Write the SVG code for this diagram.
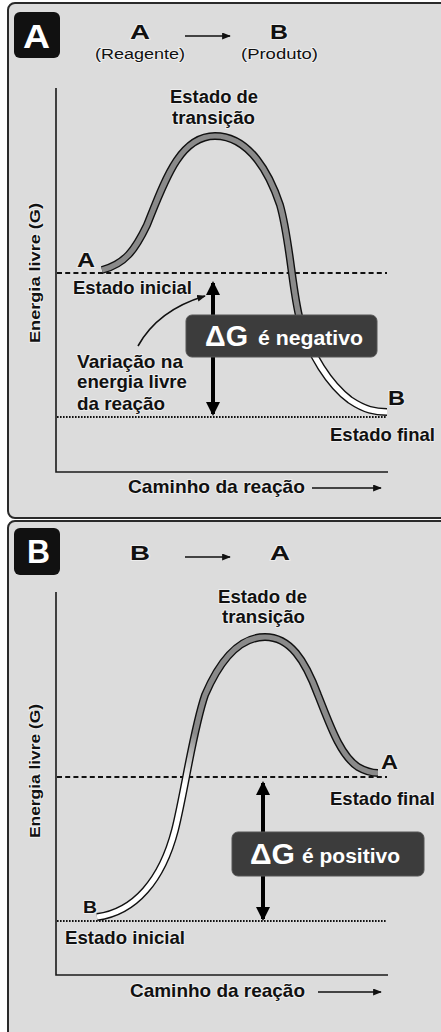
<svg xmlns="http://www.w3.org/2000/svg" width="441" height="1032" viewBox="0 0 441 1032">
<style>
.t{font-family:"Liberation Sans",Arial,sans-serif;font-weight:bold;fill:#111;stroke:#fff;stroke-width:2;stroke-opacity:0.5;stroke-linejoin:round;paint-order:stroke}
.r{font-weight:normal}
.w{fill:#fff;stroke:none}
.panel{fill:#dcdcdc;stroke:#2a2a2a;stroke-width:2}
.tag{fill:#111}
.axis{stroke:#1a1a1a;stroke-width:1.6;fill:none}
.dash{stroke:#111;stroke-width:2.2;stroke-dasharray:5 3.2;fill:none}
.dot{stroke:#111;stroke-width:2;stroke-dasharray:1.6 1.4;fill:none}
.tubeo{stroke:#111;stroke-width:8;fill:none}
.thin{stroke:#111;stroke-width:1.6;fill:none}
.dg{stroke:#000;stroke-width:4;fill:none}
.box{fill:#3c3c3c;stroke:#555;stroke-width:1}
</style>
<defs>
<marker id="ah" viewBox="0 0 10 8" refX="9" refY="4" markerWidth="9" markerHeight="7" markerUnits="userSpaceOnUse" orient="auto"><path d="M0,0 L10,4 L0,8 z" fill="#111"/></marker>
<marker id="big" viewBox="0 0 14 14" refX="12" refY="7" markerWidth="14" markerHeight="14" markerUnits="userSpaceOnUse" orient="auto-start-reverse"><path d="M0,0 L14,7 L0,14 z" fill="#000"/></marker>
<linearGradient id="gA" gradientUnits="userSpaceOnUse" x1="300" y1="318" x2="318" y2="352"><stop offset="0" stop-color="#8a8a8a"/><stop offset="1" stop-color="#ffffff"/></linearGradient>
<linearGradient id="gB" gradientUnits="userSpaceOnUse" x1="182" y1="782" x2="212" y2="748"><stop offset="0" stop-color="#ffffff"/><stop offset="1" stop-color="#8a8a8a"/></linearGradient>
</defs>

<g id="panelA">
<rect class="panel" x="8" y="3" width="445" height="515" rx="7"/>
<rect class="tag" x="14" y="12" width="46" height="46" rx="6"/>
<text class="t w" x="23" y="48" font-size="33" textLength="27" lengthAdjust="spacingAndGlyphs">A</text>
</g>
<g id="panelB">
<rect class="panel" x="8" y="521" width="445" height="530" rx="7"/>
<rect class="tag" x="14" y="528" width="46" height="47" rx="6"/>
<text class="t w" x="27" y="563" font-size="34" textLength="23" lengthAdjust="spacingAndGlyphs">B</text>
</g>

<g id="axesA">
<path class="axis" d="M56,88 V472 H388"/>
<line class="dash" x1="57" y1="273" x2="387" y2="273"/>
<line class="dot" x1="57" y1="417" x2="387" y2="417"/>
</g>
<g id="axesB">
<path class="axis" d="M56,592 V975 H388"/>
<line class="dash" x1="57" y1="777" x2="387" y2="777"/>
<line class="dot" x1="57" y1="921" x2="387" y2="921"/>
</g>

<g id="curveA">
<path class="tubeo" d="M102,270 C125,264 135,250 147,225 C165,180 180,136 215,136 C250,136 270,175 280,205 C290,240 292,290 300,320 C310,355 330,385 350,400 C365,410 375,412 387,412"/>
<path d="M102,270 C125,264 135,250 147,225 C165,180 180,136 215,136 C250,136 270,175 280,205 C290,240 292,290 300,320 C310,355 330,385 350,400 C365,410 375,412 387,412" fill="none" stroke="url(#gA)" stroke-width="5.2"/>
</g>
<g id="curveB">
<path class="tubeo" d="M97,917 C135,912 162,880 175,830 C185,790 193,730 205,695 C220,660 240,637 265,637 C290,637 305,660 318,695 C330,725 340,755 358,767 C365,771 372,773 378,773"/>
<path d="M97,917 C135,912 162,880 175,830 C185,790 193,730 205,695 C220,660 240,637 265,637 C290,637 305,660 318,695 C330,725 340,755 358,767 C365,771 372,773 378,773" fill="none" stroke="url(#gB)" stroke-width="5.2"/>
</g>

<g id="connectors">
<line class="thin" x1="185" y1="36" x2="230" y2="36" marker-end="url(#ah)"/>
<line class="thin" x1="312" y1="488" x2="381" y2="488" marker-end="url(#ah)"/>
<path class="thin" d="M138,346 Q158,310 205,296" stroke-width="1.4" marker-end="url(#ah)"/>
<line class="dg" x1="213" y1="283" x2="213" y2="414" marker-start="url(#big)" marker-end="url(#big)"/>
<line class="thin" x1="185" y1="557" x2="230" y2="557" marker-end="url(#ah)"/>
<line class="thin" x1="318" y1="992" x2="381" y2="992" marker-end="url(#ah)"/>
<line class="dg" x1="263" y1="783" x2="263" y2="919" marker-start="url(#big)" marker-end="url(#big)"/>
</g>

<g id="boxA">
<rect class="box" x="186" y="315" width="191" height="42" rx="6"/>
<text class="t w" x="205" y="346" font-size="29" textLength="43" lengthAdjust="spacingAndGlyphs">ΔG</text>
<text class="t w" x="258" y="345" font-size="20" textLength="105" lengthAdjust="spacingAndGlyphs">é negativo</text>
</g>
<g id="boxB">
<rect class="box" x="232" y="832" width="192" height="44" rx="6"/>
<text class="t w" x="250" y="864" font-size="29" textLength="45" lengthAdjust="spacingAndGlyphs">ΔG</text>
<text class="t w" x="302" y="863" font-size="20" textLength="98" lengthAdjust="spacingAndGlyphs">é positivo</text>
</g>

<g id="labelsA">
<text class="t" x="130" y="39" font-size="20" textLength="20" lengthAdjust="spacingAndGlyphs">A</text>
<text class="t r" x="95" y="59" font-size="15.5" textLength="90" lengthAdjust="spacingAndGlyphs">(Reagente)</text>
<text class="t" x="270" y="39" font-size="20" textLength="18" lengthAdjust="spacingAndGlyphs">B</text>
<text class="t r" x="241" y="59" font-size="15.5" textLength="77" lengthAdjust="spacingAndGlyphs">(Produto)</text>
<text class="t" x="170" y="103" font-size="17.5" textLength="88" lengthAdjust="spacingAndGlyphs">Estado de</text>
<text class="t" x="172" y="124" font-size="17.5" textLength="83" lengthAdjust="spacingAndGlyphs">transição</text>
<text class="t" x="77" y="267" font-size="19.5" textLength="18" lengthAdjust="spacingAndGlyphs">A</text>
<text class="t" x="73" y="294" font-size="18.5" textLength="119" lengthAdjust="spacingAndGlyphs">Estado inicial</text>
<text class="t" x="77" y="368" font-size="19" textLength="106" lengthAdjust="spacingAndGlyphs">Variação na</text>
<text class="t" x="77" y="388" font-size="19" textLength="110" lengthAdjust="spacingAndGlyphs">energia livre</text>
<text class="t" x="77" y="410" font-size="19" textLength="88" lengthAdjust="spacingAndGlyphs">da reação</text>
<text class="t" x="388" y="405" font-size="19.5" textLength="17" lengthAdjust="spacingAndGlyphs">B</text>
<text class="t" x="330" y="441" font-size="19" textLength="105" lengthAdjust="spacingAndGlyphs">Estado final</text>
<text class="t" x="128" y="493" font-size="18.5" textLength="177" lengthAdjust="spacingAndGlyphs">Caminho da reação</text>
<text class="t" transform="translate(40,273) rotate(-90)" text-anchor="middle" font-size="15" textLength="140" lengthAdjust="spacingAndGlyphs">Energia livre (G)</text>
</g>
<g id="labelsB">
<text class="t" x="130" y="560" font-size="20" textLength="20" lengthAdjust="spacingAndGlyphs">B</text>
<text class="t" x="270" y="560" font-size="20" textLength="20" lengthAdjust="spacingAndGlyphs">A</text>
<text class="t" x="218" y="603" font-size="17.5" textLength="89" lengthAdjust="spacingAndGlyphs">Estado de</text>
<text class="t" x="222" y="623" font-size="17.5" textLength="83" lengthAdjust="spacingAndGlyphs">transição</text>
<text class="t" x="381" y="769" font-size="19.5" textLength="17" lengthAdjust="spacingAndGlyphs">A</text>
<text class="t" x="330" y="805" font-size="19" textLength="105" lengthAdjust="spacingAndGlyphs">Estado final</text>
<text class="t" x="83" y="913" font-size="17" textLength="14" lengthAdjust="spacingAndGlyphs">B</text>
<text class="t" x="65" y="944" font-size="18.5" textLength="120" lengthAdjust="spacingAndGlyphs">Estado inicial</text>
<text class="t" x="130" y="997" font-size="18.5" textLength="175" lengthAdjust="spacingAndGlyphs">Caminho da reação</text>
<text class="t" transform="translate(40,771) rotate(-90)" text-anchor="middle" font-size="15" textLength="134" lengthAdjust="spacingAndGlyphs">Energia livre (G)</text>
</g>
</svg>
